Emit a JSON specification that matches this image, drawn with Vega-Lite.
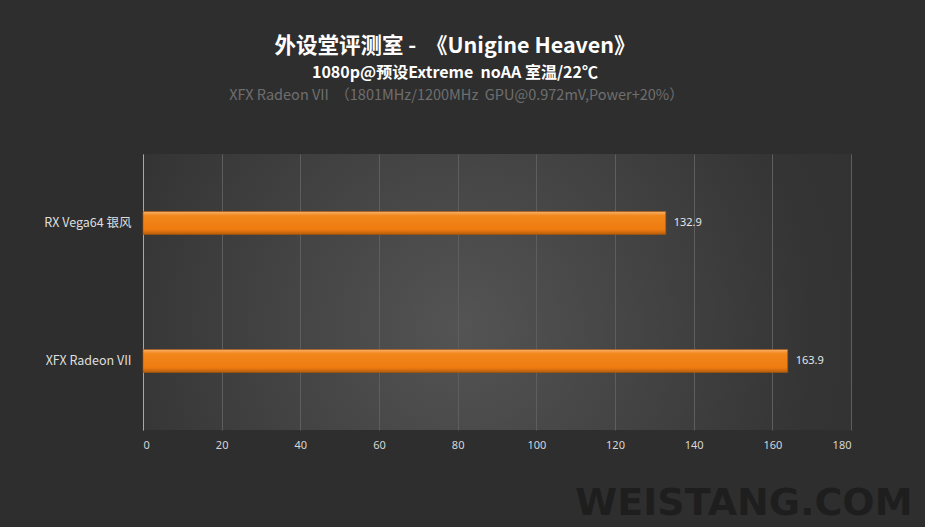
{
  "$schema": "https://vega.github.io/schema/vega-lite/v6.json",
  "autosize": {"type": "none"},
  "width": 708,
  "height": 276,
  "padding": {"left": 143, "top": 154, "right": 74, "bottom": 97},
  "background": "#2e2e2e",
  "title": {
    "text": "外设堂评测室 -  \u00a0《Unigine Heaven》",
    "subtitle": "1080p@预设Extreme \u00a0noAA 室温/22℃",
    "anchor": "middle",
    "frame": "group",
    "dx": -42,
    "offset": 6,
    "font": "Noto Sans CJK SC",
    "fontSize": 21.5,
    "fontWeight": "bold",
    "color": "#ffffff",
    "subtitleFont": "Noto Sans CJK SC",
    "subtitleFontSize": 16,
    "subtitleFontWeight": "bold",
    "subtitleColor": "#ffffff",
    "subtitlePadding": 8
  },
  "data": {
    "values": [
      {"card": "RX Vega64 银风", "fps": 132.9},
      {"card": "XFX Radeon VII", "fps": 163.9}
    ]
  },
  "encoding": {
    "y": {
      "field": "card",
      "type": "nominal",
      "sort": null,
      "scale": {"paddingInner": 0, "paddingOuter": 0},
      "axis": {
        "title": null,
        "ticks": false,
        "domainColor": "#a8a8a8",
        "labelColor": "#dedede",
        "labelFont": "Noto Sans CJK SC",
        "labelFontSize": 12.5,
        "labelPadding": 12
      }
    }
  },
  "layer": [
    {
      "mark": {
        "type": "bar",
        "size": 23,
        "stroke": "#a9560c",
        "strokeWidth": 0.6,
        "fill": {
          "gradient": "linear",
          "x1": 0, "y1": 0, "x2": 0, "y2": 1,
          "stops": [
            {"offset": 0, "color": "#f8b26a"},
            {"offset": 0.18, "color": "#f2871c"},
            {"offset": 0.8, "color": "#ee7b10"},
            {"offset": 1, "color": "#b35c0c"}
          ]
        }
      },
      "encoding": {
        "x": {
          "field": "fps",
          "type": "quantitative",
          "scale": {"domain": [0, 180], "nice": false},
          "axis": {
            "title": "WEISTANG.COM",
            "titleFont": "DejaVu Sans",
            "titleFontSize": 38,
            "titleFontWeight": "bold",
            "titleColor": "#1e1e1e",
            "titleAlign": "right",
            "titleBaseline": "middle",
            "titleX": 769,
            "titleY": 73,
            "values": [0, 20, 40, 60, 80, 100, 120, 140, 160, 180],
            "domain": false,
            "ticks": false,
            "grid": true,
            "gridColor": "#5e5e5e",
            "gridWidth": 1,
            "labelColor": "#d6d6d6",
            "labelFont": "Noto Sans",
            "labelFontSize": 11,
            "labelPadding": 9
          }
        }
      }
    },
    {
      "mark": {
        "type": "text",
        "align": "left",
        "dx": 8,
        "font": "Noto Sans",
        "fontSize": 11,
        "color": "#e6e6e6"
      },
      "encoding": {
        "x": {
          "field": "fps",
          "type": "quantitative",
          "axis": {
            "orient": "top",
            "title": "XFX Radeon VII \u00a0（1801MHz/1200MHz \u00a0GPU@0.972mV,Power+20%）",
            "titleFont": "Noto Sans CJK SC",
            "titleFontSize": 14.5,
            "titleFontWeight": "normal",
            "titleColor": "#6e6e6e",
            "titleAlign": "center",
            "titleBaseline": "middle",
            "titleX": 313,
            "titleY": -59,
            "labels": false,
            "ticks": false,
            "domain": false,
            "grid": false
          }
        },
        "text": {"field": "fps", "type": "quantitative", "format": ".1f"}
      }
    }
  ],
  "resolve": {"axis": {"x": "independent"}},
  "config": {
    "view": {
      "stroke": null,
      "fill": {
        "gradient": "radial",
        "x1": 0.45, "y1": 0.55, "r1": 0,
        "x2": 0.45, "y2": 0.55, "r2": 0.72,
        "stops": [
          {"offset": 0, "color": "#545454"},
          {"offset": 0.7, "color": "#343434"},
          {"offset": 1, "color": "#303030"}
        ]
      }
    }
  }
}
